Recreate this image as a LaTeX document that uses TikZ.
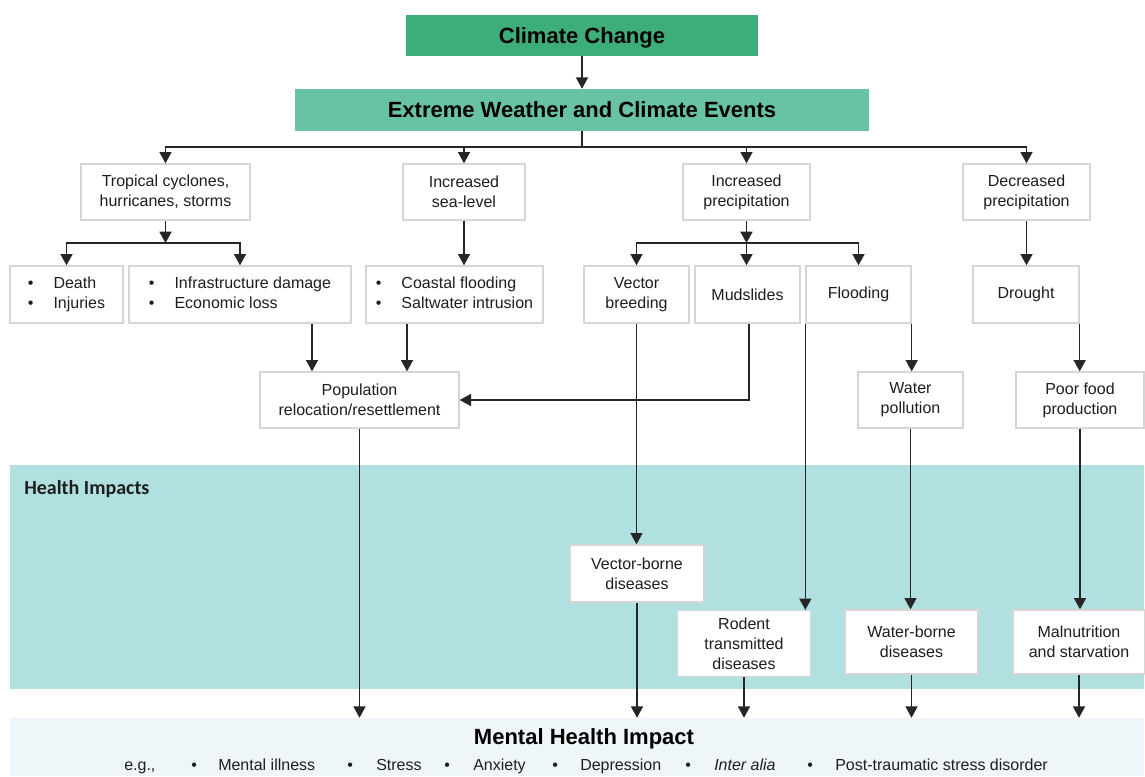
\documentclass[tikz,border=0pt]{standalone}
\usepackage{fontspec}
\setmainfont{Liberation Sans}
\newfontfamily\calib{Carlito}
\usetikzlibrary{arrows.meta}
\definecolor{ccgreen}{RGB}{61,174,121}
\definecolor{ewgreen}{RGB}{104,195,165}
\definecolor{healthfill}{RGB}{176,224,224}
\definecolor{mentalfill}{RGB}{238,246,249}
\definecolor{boxgray}{RGB}{214,214,214}
\definecolor{txt}{RGB}{30,30,30}
\tikzset{
  wh/.style 2 args={minimum width=#1*0.75pt, minimum height=#2*0.75pt},
  box/.style={draw=boxgray, line width=1pt, fill=white, align=center, inner sep=0pt,
    text=txt, font=\fontsize{12}{15}\selectfont},
  title/.style={inner sep=0pt, align=center, text=black, text height=11.8pt, text depth=0pt,
    font=\bfseries\fontsize{16.5}{20}\selectfont},
  band/.style={inner sep=0pt},
  arr/.style={-{Triangle[width=9pt,length=8.5pt]}, line width=1.2pt, draw=black!85},
  ln/.style={line width=1.2pt, draw=black!85},
  listtxt/.style={inner sep=0pt, anchor=base west, text=txt, font=\fontsize{12}{14}\selectfont},
}
\newcommand{\blist}[2]{\begin{tabular}{@{}l@{\hspace{15pt}}l@{}}\textbullet&#1\\\textbullet&#2\end{tabular}}
\begin{document}
\begin{tikzpicture}[x=0.75pt,y=-0.75pt]
\useasboundingbox[fill=white] (0,0) rectangle (1145,776);
% bands
\node[band, fill=healthfill, wh={1134}{224}] (hi) at (577,577) {};
\node[band, fill=mentalfill, wh={1134}{58}] (mh) at (577,747) {};
\node[anchor=west, inner sep=0pt, text=txt, font=\calib\bfseries\fontsize{15}{18}\selectfont] (hilabel) at (24,489) {Health Impacts};
\node[title] (mhlabel) at (584,737) {Mental Health Impact};
% mental list
\node[listtxt] (eg) at (124,770) {e.g.,};
\node[listtxt] (b1) at (191,770) {\textbullet};
\node[listtxt] (l1) at (218,770) {Mental illness};
\node[listtxt] (b2) at (347,770) {\textbullet};
\node[listtxt] (l2) at (376,770) {Stress};
\node[listtxt] (b3) at (444,770) {\textbullet};
\node[listtxt] (l3) at (473,770) {Anxiety};
\node[listtxt] (b4) at (552,770) {\textbullet};
\node[listtxt] (l4) at (580,770) {Depression};
\node[listtxt] (b5) at (685,770) {\textbullet};
\node[listtxt] (l5) at (714,770) {\itshape Inter alia};
\node[listtxt] (b6) at (807,770) {\textbullet};
\node[listtxt] (l6) at (835,770) {Post-traumatic stress disorder};
% top
\node[title, fill=ccgreen, wh={352}{41}] (cc) at (582,35.5) {Climate Change};
\node[title, fill=ewgreen, wh={574}{42}] (ew) at (582,110) {Extreme Weather and Climate Events};
% row 1
\node[box, wh={169}{56}] (trop) at (165.5,192) {Tropical cyclones,\\hurricanes, storms};
\node[box, wh={122}{56}] (sea) at (464,192) {Increased\\sea-level};
\node[box, wh={127}{56}] (incp) at (746.5,192) {Increased\\precipitation};
\node[box, wh={127}{56}] (decp) at (1026.5,192) {Decreased\\precipitation};
% row 2
\node[box, wh={113}{57}] (death) at (66.5,294.5) {\blist{Death}{Injuries}};
\node[box, wh={222}{57}] (infra) at (240,294.5) {\blist{Infrastructure damage}{Economic loss}};
\node[box, wh={177}{57}] (coast) at (454.5,294.5) {\blist{Coastal flooding}{Saltwater intrusion}};
\node[box, wh={105}{57}] (vect) at (636.5,294.5) {Vector\\breeding};
\node[box, wh={105}{57}] (mud) at (747.5,294.5) {Mudslides};
\node[box, wh={105}{57}] (flood) at (858.5,294.5) {Flooding};
\node[box, wh={106}{57}] (drought) at (1026,294.5) {Drought};
% row 3
\node[box, wh={199}{56}] (pop) at (359.5,400) {Population\\relocation/resettlement};
\node[box, wh={105}{56}] (wpol) at (910.5,400) {Water\\pollution};
\node[box, wh={128}{56}] (pfood) at (1080,400) {Poor food\\production};
% health boxes
\node[box, wh={134}{57}] (vbd) at (637,573.5) {Vector-borne\\diseases};
\node[box, wh={133}{66}] (rod) at (744,643.5) {Rodent\\transmitted\\diseases};
\node[box, wh={133}{64}] (wbd) at (911.5,642) {Water-borne\\diseases};
\node[box, wh={132}{64}] (mal) at (1079,642) {Malnutrition\\and starvation};
% connectors
\draw[arr] (cc.south) -- (ew.north);
\coordinate (h1) at (582,147);
\draw[ln] (ew.south) -- (h1);
\draw[arr] (h1) -| (trop.north);
\draw[arr] (h1) -| (decp.north);
\draw[arr] (sea.north |- h1) -- (sea.north);
\draw[arr] (incp.north |- h1) -- (incp.north);
\coordinate (h2) at (165.5,243);
\draw[arr] (trop.south) -- (h2);
\draw[arr] (h2) -| (death.north);
\draw[arr] (h2) -| (infra.north);
\draw[arr] (sea.south) -- (sea.south |- coast.north);
\coordinate (h3) at (746.5,243);
\draw[arr] (incp.south) -- (h3);
\draw[arr] (h3) -| (vect.north);
\draw[arr] (h3) -- (h3 |- mud.north);
\draw[arr] (h3) -| (flood.north);
\draw[arr] (decp.south) -- (decp.south |- drought.north);
\coordinate (a1) at ([xshift=54pt]infra.south);
\draw[arr] (a1) -- (a1 |- pop.north);
\coordinate (a2) at ([xshift=-35.6pt]coast.south);
\draw[arr] (a2) -- (a2 |- pop.north);
\draw[arr] ([xshift=1pt]mud.south) |- (pop.east);
\draw[arr] (flood.south east) -- (flood.south east |- wpol.north);
\draw[arr] (flood.south west) -- (flood.south west |- rod.north);
\draw[arr] (drought.south east) -- (drought.south east |- pfood.north);
\draw[arr] (vect.south) -- (vect.south |- vbd.north);
\draw[arr] (wpol.south) -- (wpol.south |- wbd.north);
\draw[arr] (pfood.south) -- (pfood.south |- mal.north);
\draw[arr] (pop.south) -- (pop.south |- mh.north);
\draw[arr] (vbd.south) -- (vbd.south |- mh.north);
\draw[arr] (rod.south) -- (rod.south |- mh.north);
\draw[arr] (wbd.south) -- (wbd.south |- mh.north);
\draw[arr] (mal.south) -- (mal.south |- mh.north);
\end{tikzpicture}
\end{document}
